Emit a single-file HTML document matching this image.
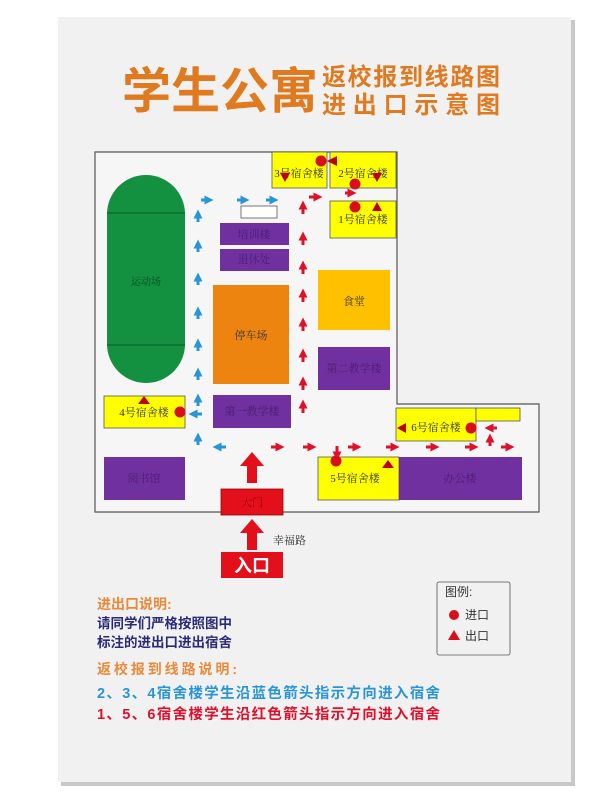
<!DOCTYPE html>
<html><head><meta charset="utf-8"><style>
html,body{margin:0;padding:0;background:#fff;}
svg{display:block;font-family:"Liberation Sans","Noto Sans CJK SC",sans-serif;}
.s{font-family:"Liberation Serif","Noto Serif CJK SC",serif;}
</style></head><body>
<svg width="608" height="800" viewBox="0 0 608 800" xmlns="http://www.w3.org/2000/svg">
<defs>
<marker id="bh" viewBox="0 0 10 10" refX="5" refY="5" markerWidth="3" markerHeight="3" orient="auto"><path d="M0,0L10,5L0,10z" fill="#2a95d5"/></marker>
<marker id="rh" viewBox="0 0 10 10" refX="5" refY="5" markerWidth="3" markerHeight="3" orient="auto"><path d="M0,0L10,5L0,10z" fill="#e0102a"/></marker>
</defs>
<rect x="61" y="20" width="514" height="766" fill="#c8c8c8"/>
<rect x="58" y="17" width="513" height="765" fill="#f1f1f1"/>
<text x="122" y="108" font-size="49" font-weight="bold" fill="#e07a1f">学生公寓</text>
<text x="322" y="85" font-size="24" font-weight="bold" fill="#e07a1f" textLength="178">返校报到线路图</text>
<text x="322" y="113" font-size="24" font-weight="bold" fill="#e07a1f" textLength="178">进出口示意图</text>
<!-- map outline -->
<path d="M95,152H397V404H539V512H95Z" fill="#f6f6f6" stroke="#555" stroke-width="1.2"/>
<!-- stadium -->
<rect x="107" y="175" width="78" height="208" rx="39" fill="#139040"/>
<line x1="107" y1="213" x2="185" y2="213" stroke="#0a5a28"/>
<line x1="107" y1="345" x2="185" y2="345" stroke="#0a5a28"/>
<text x="146" y="285" font-size="10" text-anchor="middle" class="s" fill="#0a4a20">运动场</text>
<!-- dorms -->
<g stroke="#555" stroke-width="0.8" fill="#ffff00">
<rect x="272" y="152" width="55" height="36"/>
<rect x="330" y="152" width="66" height="36"/>
<rect x="330" y="201" width="66" height="37"/>
<rect x="104" y="396" width="81" height="32"/>
<rect x="396" y="408" width="80" height="33"/>
<rect x="476" y="408" width="44" height="13"/>
<rect x="318" y="457" width="81" height="43"/>
</g>
<rect x="241" y="206" width="36" height="12" fill="#fff" stroke="#555" stroke-width="0.8"/>
<g fill="#7030a0">
<rect x="220" y="223" width="69" height="22"/>
<rect x="220" y="249" width="69" height="22"/>
<rect x="318" y="347" width="72" height="43"/>
<rect x="213" y="395" width="78" height="33"/>
<rect x="104" y="457" width="81" height="43"/>
<rect x="399" y="457" width="123" height="43"/>
</g>
<rect x="213" y="285" width="76" height="99" fill="#ee8410"/>
<rect x="318" y="270" width="72" height="60" fill="#ffc000"/>
<g class="s" font-size="11" text-anchor="middle" fill="#333">
<text x="299" y="177">3号宿舍楼</text>
<text x="363" y="177">2号宿舍楼</text>
<text x="363" y="223">1号宿舍楼</text>
<text x="144" y="416">4号宿舍楼</text>
<text x="436" y="431">6号宿舍楼</text>
<text x="355" y="482">5号宿舍楼</text>
<text x="354" y="305">食堂</text>
<text x="251" y="339">停车场</text>
<text x="254" y="238" fill="#4a1e70">培训楼</text>
<text x="254" y="263" fill="#4a1e70">退休处</text>
<text x="354" y="372" fill="#4a1e70">第二教学楼</text>
<text x="252" y="415" fill="#4a1e70">第一教学楼</text>
<text x="144" y="482" fill="#4a1e70">阅书馆</text>
<text x="460" y="482" fill="#4a1e70">办公楼</text>
</g>
<!-- gate -->
<rect x="221" y="489" width="62" height="26" fill="#e3101c" stroke="#900" stroke-width="0.8"/>
<text x="252" y="506" font-size="11" text-anchor="middle" class="s" fill="#900">大门</text>
<rect x="221" y="552" width="62" height="26" fill="#e3101c"/>
<text x="252" y="572" font-size="18" font-weight="bold" text-anchor="middle" fill="#fff">入口</text>
<text x="273" y="544" font-size="11" class="s" fill="#333">幸福路</text>
<g fill="#e3101c">
<path d="M247,483V466H240L252,452L264,466H257V483Z"/>
<path d="M247,550V533H240L252,519L264,533H257V550Z"/>
</g>
<!-- blue arrows -->
<g stroke="#2a95d5" stroke-width="3" marker-end="url(#bh)">
<line x1="201" y1="200" x2="209" y2="200"/><line x1="237" y1="200" x2="245" y2="200"/><line x1="266" y1="200" x2="274" y2="200"/>
<line x1="198" y1="222" x2="198" y2="214"/><line x1="198" y1="252" x2="198" y2="244"/><line x1="198" y1="285" x2="198" y2="277"/>
<line x1="198" y1="319" x2="198" y2="311"/><line x1="198" y1="351" x2="198" y2="343"/><line x1="198" y1="380" x2="198" y2="372"/>
<line x1="198" y1="406" x2="198" y2="398"/><line x1="198" y1="445" x2="198" y2="437"/>
<line x1="202" y1="414" x2="193" y2="414"/><line x1="226" y1="447" x2="217" y2="447"/>
</g>
<!-- red arrows -->
<g stroke="#e0102a" stroke-width="3" marker-end="url(#rh)">
<line x1="303" y1="214" x2="303" y2="205"/><line x1="303" y1="245" x2="303" y2="236"/><line x1="303" y1="274" x2="303" y2="265"/>
<line x1="303" y1="302" x2="303" y2="293"/><line x1="303" y1="331" x2="303" y2="322"/><line x1="303" y1="362" x2="303" y2="353"/>
<line x1="303" y1="390" x2="303" y2="381"/><line x1="303" y1="413" x2="303" y2="404"/>
<line x1="309" y1="197" x2="318" y2="197"/><line x1="345" y1="193" x2="352" y2="193"/>
<line x1="271" y1="447" x2="280" y2="447"/><line x1="303" y1="447" x2="312" y2="447"/><line x1="348" y1="447" x2="357" y2="447"/>
<line x1="386" y1="447" x2="395" y2="447"/><line x1="426" y1="447" x2="435" y2="447"/><line x1="465" y1="447" x2="474" y2="447"/><line x1="501" y1="447" x2="510" y2="447"/>
<line x1="337" y1="446" x2="337" y2="456"/><line x1="490" y1="446" x2="490" y2="438"/><line x1="497" y1="428" x2="489" y2="428"/>
</g>
<!-- entry/exit markers -->
<g fill="#d8101c">
<circle cx="321" cy="161" r="5.5"/><circle cx="355" cy="184" r="5.5"/><circle cx="355" cy="207" r="5.5"/>
<circle cx="180" cy="412" r="5.5"/><circle cx="336" cy="461" r="5.5"/><circle cx="471" cy="428" r="5.5"/>
</g>
<g fill="#c00010">
<path d="M327,161L337,156V166Z"/><path d="M280,173H290L285,182Z"/><path d="M372,173H382L377,182Z"/>
<path d="M372,211H382L377,202Z"/><path d="M138,404H150L144,396Z"/><path d="M382,468H394L388,460Z"/><path d="M397,428L406,423V433Z"/>
</g>
<!-- legend -->
<rect x="437" y="582" width="73" height="73" rx="2" fill="#f1f1f1" stroke="#555" stroke-width="0.8"/>
<text x="445" y="596" font-size="12" fill="#333">图例:</text>
<circle cx="454" cy="615" r="5" fill="#d8101c"/><text x="465" y="619" font-size="12" fill="#333">进口</text>
<path d="M448,640H460L454,630Z" fill="#d8101c"/><text x="465" y="640" font-size="12" fill="#333">出口</text>
<!-- notes -->
<g font-weight="bold">
<text x="97" y="609" font-size="14" fill="#e88a3a">进出口说明:</text>
<text x="97" y="628" font-size="13.5" fill="#2b2a7a">请同学们严格按照图中</text>
<text x="97" y="647" font-size="13.5" fill="#2b2a7a">标注的进出口进出宿舍</text>
<text x="97" y="674" font-size="14" fill="#e88a3a" textLength="140">返校报到线路说明:</text>
<text x="97" y="698" font-size="14.5" fill="#2a95d5" textLength="343">2、3、4宿舍楼学生沿蓝色箭头指示方向进入宿舍</text>
<text x="97" y="719" font-size="14.5" fill="#e0102a" textLength="343">1、5、6宿舍楼学生沿红色箭头指示方向进入宿舍</text>
</g>
</svg>
</body></html>
